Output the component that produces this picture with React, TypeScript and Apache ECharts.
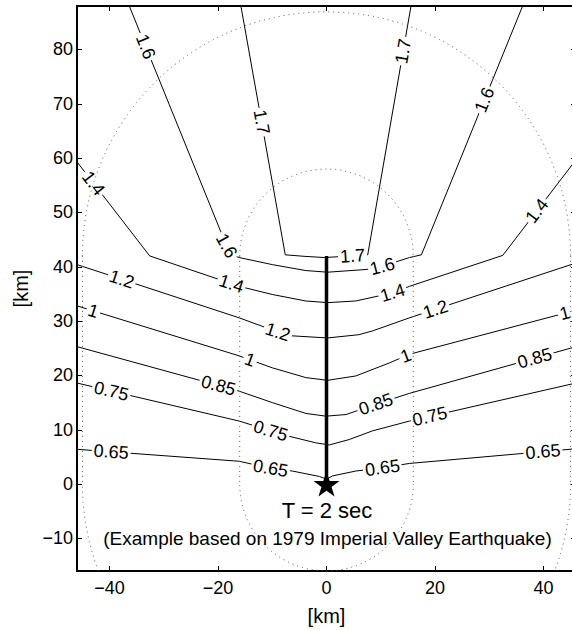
import React, { useEffect, useRef } from 'react';
import * as echarts from 'echarts';

// ---- axis ranges ----
const X_MIN = -46;
const X_MAX = 46;
const Y_MIN = -16;
const Y_MAX = 88;

// ---- fault trace (km) ----
const FAULT: number[][] = [[0, 0], [0, 42]];
// distances of the dotted buffer outlines around the fault (km)
const BUFFERS = [16, 45];

// ---- contour lines ----
const C065 = [[-46, 6.4], [-16.1, 4.2], [-10.3, 2.9], [-6.3, 2.4], [-1.3, 1.4], [0, 0.9], [1.1, 1.5], [5.4, 2.4], [10.3, 3.0], [15.3, 3.8], [46, 6.5]];
const C075 = [[-46, 18.6], [-16.1, 11.6], [-10.3, 9.8], [-6.9, 8.8], [-2, 7.6], [0.5, 7.2], [4.2, 8.2], [8.5, 9.8], [15.3, 11.6], [46, 18.6]];
const C085 = [[-46, 25.3], [-16.1, 17.1], [-10, 15.0], [-3.8, 13.0], [-0.1, 12.5], [3.6, 12.8], [9.1, 14.7], [15.3, 16.7], [46, 25.3]];
const C100 = [[-46, 32.8], [-16.1, 23.6], [-10, 21.4], [-3.8, 19.6], [0.2, 19.1], [5.4, 19.9], [11.6, 22.3], [15.3, 23.9], [46, 32.0]];
const C120 = [[-46, 40.4], [-16.1, 30.6], [-9, 28.0], [-6.6, 27.3], [0.2, 26.9], [6, 27.5], [8.5, 28.2], [15.3, 30.6], [46, 40.7]];
const C140 = [[-47, 60.6], [-32.6, 42.0], [-16.1, 36.4], [-10, 34.9], [-3.8, 33.7], [0.2, 33.4], [5.4, 33.7], [12.2, 35.2], [15.3, 36.4], [32.5, 42.1], [46, 59.7]];
const C160 = [[-36.4, 88.1], [-17.8, 42.3], [-16.1, 41.7], [-10, 40.4], [-3.8, 39.3], [0.2, 39.0], [7.3, 39.5], [10.3, 40.1], [15.3, 41.7], [17.5, 42.2], [36.2, 88.1]];
const C170 = [[-15.8, 88.1], [-7.6, 42.2], [-3.8, 41.9], [-0.4, 41.7], [4.8, 42.0], [7.6, 42.2], [15.6, 88.1]];

const LEVEL_NAMES = ['0.65', '0.75', '0.85', '1', '1.2', '1.4', '1.6', '1.7'];
const CONTOURS = [C065, C075, C085, C100, C120, C140, C160, C170];

// contour label positions [levelIndex, x, y]
const LABELS: number[][] = [
  [0, -39.7, 5.8], [0, -10.3, 2.9], [0, 10.3, 3.0], [0, 39.9, 6.0],
  [1, -39.7, 17.0], [1, -10.3, 9.8], [1, 19, 12.7],
  [2, -20, 17.9], [2, 9.1, 14.7], [2, 38.3, 23.5],
  [3, -43, 31.8], [3, -14.3, 22.3], [3, 14.9, 23.0], [3, 43.9, 31.6],
  [4, -37.8, 37.6], [4, -9.0, 27.9], [4, 20.2, 31.8],
  [5, -43.7, 54.8], [5, -17.5, 37.0], [5, 12.2, 35.2], [5, 39.3, 49.9],
  [6, -33.9, 80.3], [6, -17.9, 44.1], [6, 10.3, 40.1], [6, 28.9, 70.8],
  [7, -12.7, 66.5], [7, 4.8, 42.0], [7, 14.1, 79.7],
];

const EPICENTER = [[0, 0]];
const TITLE_T = 'T = 2 sec';
const CAPTION = '(Example based on 1979 Imperial Valley Earthquake)';

const FONT = 'Liberation Sans, Arial, Helvetica, sans-serif';

// ---- polyline helpers (for snapping labels onto their contour) ----
function segLens(poly: number[][]) {
  const l: number[] = [];
  for (let i = 0; i < poly.length - 1; i++) {
    l.push(Math.hypot(poly[i + 1][0] - poly[i][0], poly[i + 1][1] - poly[i][1]));
  }
  return l;
}
function projectS(poly: number[][], x: number, y: number) {
  const l = segLens(poly);
  let acc = 0, bestD = Infinity, bestS = 0;
  for (let i = 0; i < l.length; i++) {
    const [x1, y1] = poly[i];
    const [x2, y2] = poly[i + 1];
    const dx = x2 - x1, dy = y2 - y1;
    let t = ((x - x1) * dx + (y - y1) * dy) / (dx * dx + dy * dy);
    t = Math.max(0, Math.min(1, t));
    const px = x1 + t * dx, py = y1 + t * dy;
    const d = Math.hypot(px - x, py - y);
    if (d < bestD) { bestD = d; bestS = acc + t * l[i]; }
    acc += l[i];
  }
  return bestS;
}
function pointAt(poly: number[][], s: number) {
  const l = segLens(poly);
  const total = l.reduce((a, b) => a + b, 0);
  s = Math.max(0, Math.min(total, s));
  let acc = 0;
  for (let i = 0; i < l.length; i++) {
    if (s <= acc + l[i] || i === l.length - 1) {
      const t = l[i] ? (s - acc) / l[i] : 0;
      return [poly[i][0] + t * (poly[i + 1][0] - poly[i][0]), poly[i][1] + t * (poly[i + 1][1] - poly[i][1])];
    }
    acc += l[i];
  }
  return poly[poly.length - 1];
}

function buildLabelData() {
  return LABELS.map(([li, x, y]) => {
    const poly = CONTOURS[li];
    const s = projectS(poly, x, y);
    const p = pointAt(poly, s);
    const a = pointAt(poly, s - 2.5);
    const b = pointAt(poly, s + 2.5);
    let ang = (Math.atan2(b[1] - a[1], b[0] - a[0]) * 180) / Math.PI;
    if (ang > 90) ang -= 180;
    if (ang < -90) ang += 180;
    return {
      value: [p[0], p[1]],
      label: { formatter: LEVEL_NAMES[li], rotate: ang },
    };
  });
}

const STAR = 'path://M50,0 L61.8,34.5 L97.6,34.5 L68.5,55.9 L79.4,90.5 L50,69.1 L20.6,90.5 L31.5,55.9 L2.4,34.5 L38.2,34.5 Z';

export default function App() {
  const ref = useRef<HTMLDivElement>(null);
  useEffect(() => {
    if (!ref.current) return;
    const chart = echarts.init(ref.current, undefined, { renderer: 'svg' });

    const minus = (v: number) => (v < 0 ? '\u2212' + Math.abs(v) : String(v));
    const axisCommon = {
      type: 'value' as const,
      axisLine: { show: true, onZero: false, lineStyle: { color: '#000', width: 2 } },
      axisTick: { show: true, inside: true, length: 5, lineStyle: { color: '#000', width: 1 } },
      splitLine: { show: false },
    };

    const dotStyle = { stroke: '#555', lineWidth: 1, lineDash: [1, 4], fill: 'none' };

    const series: any[] = [];
    CONTOURS.forEach((c, i) => {
      series.push({
        type: 'line',
        name: LEVEL_NAMES[i],
        data: c,
        symbol: 'none',
        showSymbol: false,
        clip: true,
        lineStyle: { color: '#000', width: 1 },
        z: 2,
        silent: true,
      });
    });
    series.push({
      type: 'scatter',
      data: buildLabelData(),
      symbolSize: 0,
      itemStyle: { opacity: 1 },
      z: 3,
      silent: true,
      label: {
        show: true,
        position: 'inside',
        color: '#000',
        opacity: 1,
        fontFamily: FONT,
        fontSize: 18,
        backgroundColor: '#fff',
        padding: [0, 2],
      },
    });
    series.push({
      type: 'custom',
      data: BUFFERS.map((r) => [FAULT[0][0], FAULT[0][1], r]),
      encode: { x: 0, y: 1 },
      z: 4,
      silent: true,
      renderItem: (params: any, api: any) => {
        const r = api.value(2) as number;
        const top = api.coord(FAULT[1]);
        const bot = api.coord(FAULT[0]);
        const rx = api.size([r, 0])[0];
        const children: any[] = [
          { type: 'arc', shape: { cx: top[0], cy: top[1], r: rx, startAngle: Math.PI, endAngle: 2 * Math.PI, clockwise: true }, style: dotStyle },
          { type: 'line', shape: { x1: top[0] - rx, y1: top[1], x2: bot[0] - rx, y2: bot[1] }, style: dotStyle },
          { type: 'line', shape: { x1: top[0] + rx, y1: top[1], x2: bot[0] + rx, y2: bot[1] }, style: dotStyle },
        ];
        const lim = (FAULT[0][1] - Y_MIN) / r;
        if (lim >= 1) {
          children.push({ type: 'arc', shape: { cx: bot[0], cy: bot[1], r: rx, startAngle: 0, endAngle: Math.PI, clockwise: true }, style: dotStyle });
        } else {
          const a = Math.asin(lim);
          children.push({ type: 'arc', shape: { cx: bot[0], cy: bot[1], r: rx, startAngle: 0, endAngle: a, clockwise: true }, style: dotStyle });
          children.push({ type: 'arc', shape: { cx: bot[0], cy: bot[1], r: rx, startAngle: Math.PI - a, endAngle: Math.PI, clockwise: true }, style: dotStyle });
        }
        return { type: 'group', children };
      },
    });
    series.push({
      type: 'line',
      data: FAULT,
      symbol: 'none',
      lineStyle: { color: '#000', width: 3.5 },
      z: 5,
      silent: true,
    });
    series.push({
      type: 'scatter',
      data: EPICENTER,
      symbol: STAR,
      symbolSize: [26, 25],
      itemStyle: { color: '#000', opacity: 1 },
      z: 6,
      silent: true,
    });

    chart.setOption({
      animation: false,
      backgroundColor: '#fff',
      grid: { left: 77, top: 6, width: 499, height: 565, containLabel: false, outerBoundsMode: 'none' },
      xAxis: [
        {
          ...axisCommon,
          position: 'bottom',
          min: X_MIN,
          max: X_MAX,
          splitNumber: 5,
          axisLabel: {
            color: '#000', fontFamily: FONT, fontSize: 18, margin: 8,
            formatter: (v: number) => (v % 20 === 0 ? minus(v) : ''),
          },
          name: '[km]',
          nameLocation: 'middle',
          nameGap: 35,
          nameTextStyle: { color: '#000', fontFamily: FONT, fontSize: 20 },
        },
        {
          ...axisCommon,
          position: 'top',
          min: X_MIN,
          max: X_MAX,
          splitNumber: 5,
          axisLabel: { show: false },
        },
      ],
      yAxis: [
        {
          ...axisCommon,
          position: 'left',
          min: Y_MIN,
          max: Y_MAX,
          splitNumber: 10,
          axisLabel: {
            color: '#000', fontFamily: FONT, fontSize: 18, margin: 4,
            formatter: (v: number) => (v % 10 === 0 ? minus(v) : ''),
          },
          name: '[km]',
          nameLocation: 'middle',
          nameGap: 46,
          nameRotate: 90,
          nameTextStyle: { color: '#000', fontFamily: FONT, fontSize: 20 },
        },
        {
          ...axisCommon,
          position: 'right',
          min: Y_MIN,
          max: Y_MAX,
          splitNumber: 10,
          axisLabel: { show: false },
        },
      ],
      graphic: [
        {
          type: 'text', x: 327, y: 510, z: 10,
          style: { text: TITLE_T, font: `22px ${FONT}`, fill: '#000', textAlign: 'center', textVerticalAlign: 'middle' },
        },
        {
          type: 'text', x: 327.5, y: 538, z: 10,
          style: { text: CAPTION, font: `19px ${FONT}`, fill: '#000', textAlign: 'center', textVerticalAlign: 'middle' },
        },
      ],
      series,
    });
    return () => chart.dispose();
  }, []);
  return <div ref={ref} style={{ position: 'absolute', left: 0, top: 0, width: 572, height: 630 }} />;
}
